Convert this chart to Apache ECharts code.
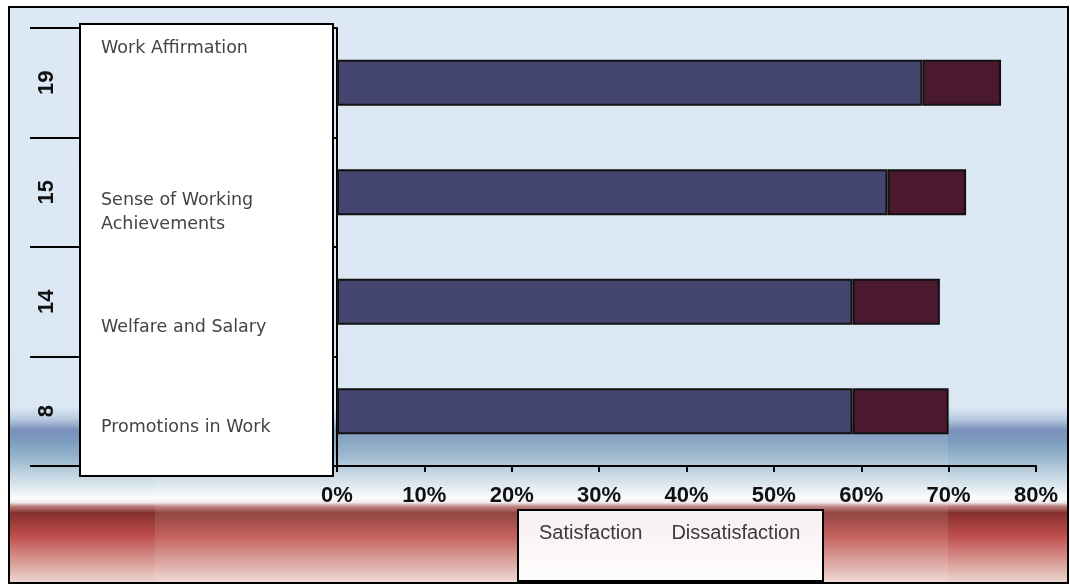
<!DOCTYPE html>
<html>
<head>
<meta charset="utf-8">
<title>Satisfaction and Dissatisfaction by Factor</title>
<script src="https://cdn.jsdelivr.net/npm/echarts@6/dist/echarts.min.js"></script>
<style>
  html, body { margin: 0; padding: 0; background: #ffffff; }
  #chart { width: 1070px; height: 586px; }
</style>
</head>
<body>
<div id="chart"></div>
<script>
// Item counts shown on the category axis (bottom to top)
const itemCounts = ['8', '14', '15', '19'];
// Factor names written in the side panel (bottom to top)
const factorNames = ['Promotions in Work', 'Welfare and Salary', 'Sense of Working\nAchievements', 'Work Affirmation'];
// Percentages for each factor (bottom to top)
const satisfaction = [59, 59, 63, 67];
const dissatisfaction = [11, 10, 9, 9];
// Percentage axis
const xTicks = { min: 0, max: 80, interval: 10 };
const seriesNames = ['Satisfaction', 'Dissatisfaction'];

const chart = echarts.init(document.getElementById('chart'), null, { renderer: 'canvas' });

const nameTextY = [427, 327, 212, 48];

const option = {
  animation: false,
  backgroundColor: '#ffffff',
  grid: { left: 337, right: 34, top: 28, bottom: 120, containLabel: false },
  xAxis: {
    type: 'value',
    min: xTicks.min,
    max: xTicks.max,
    interval: xTicks.interval,
    axisLine: { show: true, lineStyle: { color: '#000', width: 2 } },
    axisTick: { show: true, length: 6, lineStyle: { color: '#000', width: 2 } },
    splitLine: { show: false },
    axisLabel: {
      formatter: '{value}%',
      margin: 19,
      color: '#111',
      fontSize: 22,
      fontWeight: 'bold',
      fontFamily: 'Liberation Sans, Arial, sans-serif'
    }
  },
  yAxis: {
    type: 'category',
    data: itemCounts,
    axisLine: { show: true, lineStyle: { color: '#000', width: 2 } },
    axisTick: { show: true, length: 307, lineStyle: { color: '#000', width: 2 } },
    splitLine: { show: false },
    axisLabel: {
      rotate: 90,
      margin: 279,
      color: '#111',
      fontSize: 22,
      fontWeight: 'bold',
      fontFamily: 'Liberation Sans, Arial, sans-serif'
    }
  },
  legend: {
    data: seriesNames,
    left: 534,
    top: 523,
    padding: 0,
    itemGap: 24,
    itemWidth: 0,
    itemHeight: 0,
    icon: 'none',
    z: 20,
    textStyle: {
      color: '#3a3a3a',
      fontSize: 20,
      fontFamily: 'Liberation Sans, Arial, sans-serif'
    }
  },
  series: [
    {
      name: seriesNames[0],
      type: 'bar',
      stack: 'total',
      barWidth: 46,
      data: satisfaction,
      itemStyle: { color: '#45466f', borderColor: '#111', borderWidth: 2 }
    },
    {
      name: seriesNames[1],
      type: 'bar',
      stack: 'total',
      barWidth: 46,
      data: dissatisfaction,
      itemStyle: { color: '#4a1930', borderColor: '#111', borderWidth: 2 }
    }
  ],
  graphic: [
    {
      type: 'rect',
      z: -100,
      silent: true,
      shape: { x: 9, y: 7, width: 1059, height: 576 },
      style: {
        fill: new echarts.graphic.LinearGradient(0, 0, 0, 1, [
          { offset: 0, color: '#dce9f5' },
          { offset: 0.694, color: '#dbe8f4' },
          { offset: 0.714, color: '#b9cce0' },
          { offset: 0.734, color: '#7a8fbb' },
          { offset: 0.752, color: '#7c9cbf' },
          { offset: 0.778, color: '#93b2ca' },
          { offset: 0.804, color: '#b9cedd' },
          { offset: 0.830, color: '#dce7ef' },
          { offset: 0.852, color: '#fbfcfd' },
          { offset: 0.859, color: '#f0eaea' },
          { offset: 0.866, color: '#b97a78' },
          { offset: 0.877, color: '#85302e' },
          { offset: 0.917, color: '#bf4f4c' },
          { offset: 0.957, color: '#d6948f' },
          { offset: 1, color: '#eedcd5' }
        ]),
        stroke: '#000',
        lineWidth: 2
      }
    },
    {
      type: 'rect',
      z: -99,
      silent: true,
      shape: { x: 155, y: 400, width: 793, height: 182 },
      style: { fill: 'rgba(255,255,255,0.10)' }
    },
    {
      type: 'rect',
      z: 10,
      silent: true,
      shape: { x: 80, y: 24, width: 253, height: 452 },
      style: { fill: '#ffffff', stroke: '#000', lineWidth: 2 }
    },
    ...factorNames.map((name, i) => ({
      type: 'text',
      z: 11,
      silent: true,
      x: 101,
      y: nameTextY[i],
      style: {
        text: name,
        fill: '#444444',
        font: 'normal 17.5px "DejaVu Sans", sans-serif',
        lineHeight: 24,
        verticalAlign: 'middle',
        align: 'left'
      }
    })),
    {
      type: 'rect',
      z: 10,
      silent: true,
      shape: { x: 518, y: 510, width: 305, height: 71 },
      style: { fill: 'rgba(255,255,255,0.93)', stroke: '#000', lineWidth: 2 }
    }
  ]
};

chart.setOption(option);
</script>
</body>
</html>
